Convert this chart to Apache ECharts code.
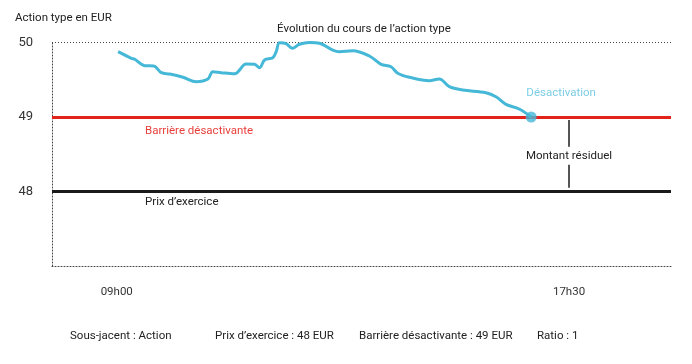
<!DOCTYPE html>
<html>
<head>
<meta charset="utf-8">
<script src="https://cdn.jsdelivr.net/npm/echarts@6/dist/echarts.min.js"></script>
<style>
html,body{margin:0;padding:0;background:#fff;}
#chart{width:692px;height:364px;}
</style>
</head>
<body>
<div id="chart"></div>
<script>
// Minutes since 09h00
const timeMinutes = [1.5, 16.6, 20.3, 31.5, 41.7, 50.3, 59.7, 74.7, 89.8, 102.8, 108.4, 117.9, 132.9, 146, 155.4, 161, 166.7, 176, 179.8, 183.6, 191.1, 197.9, 206.1, 217.3, 228.6, 243.6, 251.1, 266.1, 284.9, 298.1, 309.3, 316.8, 330, 352.5, 363.7, 375, 390, 416.3, 427.6, 438.9, 453.8, 467.3];
const priceValues = [49.877, 49.788, 49.775, 49.689, 49.685, 49.595, 49.577, 49.533, 49.474, 49.510, 49.608, 49.595, 49.581, 49.711, 49.707, 49.662, 49.765, 49.796, 49.877, 49.997, 49.984, 49.922, 49.976, 50.0, 49.989, 49.899, 49.877, 49.890, 49.819, 49.707, 49.675, 49.587, 49.533, 49.487, 49.510, 49.407, 49.362, 49.326, 49.272, 49.170, 49.107, 49.0];
const xTickValues = [0, 510];
const xTickLabels = ['09h00', '17h30'];
const yTickLabels = ['48', '49', '50'];
const strikePrice = 48;
const barrierPrice = 49;
const deactivationPoint = [467.3, 49];
const residualTime = 510;
const footerTexts = ['Sous-jacent : Action', 'Prix d\u2019exercice : 48 EUR', 'Barri\u00e8re d\u00e9sactivante : 49 EUR', 'Ratio : 1'];

const FONT = 'Roboto, "Liberation Sans", sans-serif';
const FS = 11.5;
const chart = echarts.init(document.getElementById('chart'));
const curveData = timeMinutes.map((t, i) => [t, priceValues[i]]);
const dotted = {color: '#444', type: [1, 2], width: 1};

chart.setOption({
  animation: false,
  textStyle: {fontFamily: FONT},
  grid: {left: 52, right: 21, top: 42.5, bottom: 98},
  xAxis: {
    type: 'value', min: -73, max: 625,
    axisLine: {show: true, onZero: false, lineStyle: dotted},
    axisTick: {show: false},
    splitLine: {show: false},
    axisLabel: {
      customValues: xTickValues,
      margin: 20, fontSize: FS, color: '#333', fontFamily: FONT,
      formatter: v => { const i = xTickValues.indexOf(v); return i >= 0 ? xTickLabels[i] : ''; }
    }
  },
  yAxis: {
    type: 'value', min: 47, max: 50, interval: 1,
    axisLine: {show: true, onZero: false, lineStyle: dotted},
    axisTick: {show: false},
    splitLine: {show: true, lineStyle: dotted},
    axisLabel: {
      margin: 19, fontSize: 13, color: '#333', fontFamily: FONT,
      formatter: v => yTickLabels.indexOf(String(v)) >= 0 ? String(v) : ''
    }
  },
  series: [
    {
      type: 'line', data: curveData, smooth: 0.35, showSymbol: false,
      lineStyle: {color: '#45b8d8', width: 3}, z: 5,
      markLine: {
        silent: true, symbol: 'none',
        label: {show: false},
        data: [
          [{coord: [-73, barrierPrice], lineStyle: {color: '#e2231a', width: 3, type: 'solid'}}, {coord: [625, barrierPrice]}],
          [{coord: [-73, strikePrice], lineStyle: {color: '#1a1a1a', width: 3, type: 'solid'}}, {coord: [625, strikePrice]}],
          [{coord: [residualTime, barrierPrice - 0.04], lineStyle: {color: '#555', width: 2, type: 'solid'}}, {coord: [residualTime, strikePrice + 0.05]}]
        ]
      },
      markPoint: {
        silent: true, symbol: 'rect', symbolSize: 0,
        data: [
          {coord: [residualTime, (barrierPrice + strikePrice) / 2 - 0.02], label: {show: true, position: 'inside', formatter: 'Montant r\u00e9siduel', color: '#222', fontSize: FS, fontFamily: FONT, backgroundColor: '#fff', padding: [3, 3]}}
        ]
      }
    },
    {
      type: 'scatter', data: [deactivationPoint], symbol: 'circle', symbolSize: 11,
      itemStyle: {color: '#45b8d8'}, z: 6,
      label: {show: true, position: 'top', formatter: 'D\u00e9sactivation', color: '#5bc0de', fontSize: FS, fontFamily: FONT, distance: 12, offset: [30, 0]}
    }
  ],
  graphic: [
    {type: 'text', left: 15, top: 12, style: {text: 'Action type en EUR', fontSize: FS, fill: '#222', fontFamily: FONT}},
    {type: 'text', left: 277, top: 23, style: {text: '\u00c9volution du cours de l\u2019action type', fontSize: FS, fill: '#222', fontFamily: FONT}},
    {type: 'text', left: 145, top: 125, style: {text: 'Barri\u00e8re d\u00e9sactivante', fontSize: FS, fill: '#e8413c', fontFamily: FONT}},
    {type: 'text', left: 145, top: 196, style: {text: 'Prix d\u2019exercice', fontSize: FS, fill: '#222', fontFamily: FONT}},
    {type: 'text', left: 70, top: 330, style: {text: footerTexts[0], fontSize: FS, fill: '#222', fontFamily: FONT}},
    {type: 'text', left: 215, top: 330, style: {text: footerTexts[1], fontSize: FS, fill: '#222', fontFamily: FONT}},
    {type: 'text', left: 359, top: 330, style: {text: footerTexts[2], fontSize: FS, fill: '#222', fontFamily: FONT}},
    {type: 'text', left: 537, top: 330, style: {text: footerTexts[3], fontSize: FS, fill: '#222', fontFamily: FONT}}
  ]
});
</script>
</body>
</html>
